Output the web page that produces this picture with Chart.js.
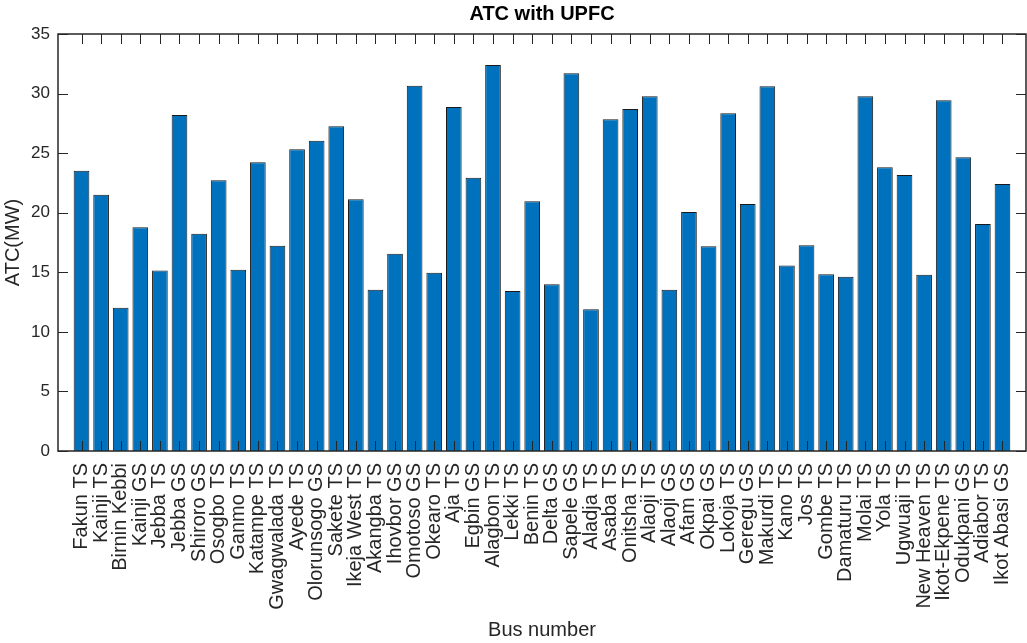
<!DOCTYPE html>
<html>
<head>
<meta charset="utf-8">
<title>ATC with UPFC</title>
<script src="https://cdn.jsdelivr.net/npm/chart.js@4.4.1/dist/chart.umd.min.js"></script>
<style>
  html, body { margin: 0; padding: 0; background: #fff; }
  .wrap { width: 1027px; height: 643px; position: relative; }
</style>
</head>
<body>
<div class="wrap"><canvas id="chart1"></canvas></div>
<script>
// data
const busNames = ['Fakun TS', 'Kainji TS', 'Birnin Kebbi', 'Kainji GS', 'Jebba TS', 'Jebba GS',
    'Shiroro GS', 'Osogbo TS', 'Ganmo TS', 'Katampe TS', 'Gwagwalada TS', 'Ayede TS',
    'Olorunsogo GS', 'Sakete TS', 'Ikeja West TS', 'Akangba TS', 'Ihovbor GS', 'Omotoso GS',
    'Okearo TS', 'Aja TS', 'Egbin GS', 'Alagbon TS', 'Lekki TS', 'Benin TS',
    'Delta GS', 'Sapele GS', 'Aladja TS', 'Asaba TS', 'Onitsha TS', 'Alaoji TS',
    'Alaoji GS', 'Afam GS', 'Okpai GS', 'Lokoja TS', 'Geregu GS', 'Makurdi TS',
    'Kano TS', 'Jos TS', 'Gombe TS', 'Damaturu TS', 'Molai TS', 'Yola TS',
    'Ugwuaji TS', 'New Heaven TS', 'Ikot-Ekpene TS', 'Odukpani GS', 'Adiabor TS', 'Ikot Abasi GS'];

const atcValues = [23.53, 21.51, 12.03, 18.77, 15.16, 28.2,
    18.24, 22.72, 15.22, 24.23, 17.23, 25.32,
    26.05, 27.25, 21.12, 13.54, 16.56, 30.66,
    14.97, 28.87, 22.94, 32.4, 13.43, 20.96,
    13.99, 31.7, 11.89, 27.84, 28.71, 29.77,
    13.54, 20.06, 17.18, 28.34, 20.73, 30.61,
    15.56, 17.26, 14.83, 14.63, 29.77, 23.81,
    23.17, 14.8, 29.43, 24.65, 19.05, 22.41];

const yTicks = [0, 5, 10, 15, 20, 25, 30, 35];

const axisColor = '#262626';
const fontFamily = "'Liberation Sans', Arial, Helvetica, sans-serif";

const busPositions = busNames.map((n, i) => i + 1);

// MATLAB style box with inward ticks
const boxTicks = {
    id: 'boxTicks',
    afterDraw(chart) {
        const c = chart.ctx;
        const a = chart.chartArea;
        const xs = chart.scales.x;
        const ys = chart.scales.y;
        const len = 10;
        c.save();
        c.strokeStyle = axisColor;
        c.lineWidth = 1.5;
        c.strokeRect(a.left, a.top, a.right - a.left, a.bottom - a.top);
        c.lineWidth = 1;
        c.beginPath();
        busPositions.forEach(p => {
            const x = Math.round(xs.getPixelForValue(p)) + 0.5;
            c.moveTo(x, a.bottom);
            c.lineTo(x, a.bottom - len);
            c.moveTo(x, a.top);
            c.lineTo(x, a.top + len);
        });
        yTicks.forEach(t => {
            const y = Math.round(ys.getPixelForValue(t)) + 0.5;
            c.moveTo(a.left, y);
            c.lineTo(a.left + len, y);
            c.moveTo(a.right, y);
            c.lineTo(a.right - len, y);
        });
        c.stroke();
        c.restore();
    }
};

const ctx = document.getElementById('chart1');
const chart1 = new Chart(ctx, {
    type: 'bar',
    data: {
        datasets: [{
            label: 'ATC',
            data: atcValues.map((v, i) => ({ x: busPositions[i], y: v })),
            backgroundColor: '#0072BD',
            borderColor: '#1a1a1a',
            borderWidth: 1,
            barPercentage: 0.8,
            categoryPercentage: 1
        }]
    },
    options: {
        responsive: true,
        maintainAspectRatio: false,
        animation: false,
        layout: {
            padding: { left: 0, right: 1, top: 0, bottom: 0 }
        },
        plugins: {
            legend: { display: false },
            tooltip: { enabled: false },
            title: {
                display: true,
                text: 'ATC with UPFC',
                fullSize: false,
                color: '#000',
                font: { family: fontFamily, size: 20, weight: 'bold' },
                padding: { top: 2, bottom: 8 }
            }
        },
        scales: {
            x: {
                type: 'linear',
                offset: false,
                min: -0.2,
                max: 49.2,
                grid: { display: false, drawTicks: false, offset: false },
                border: { display: false },
                afterBuildTicks: scale => {
                    scale.ticks = busPositions.map(p => ({ value: p }));
                },
                afterFit: scale => {
                    scale.height = 192;
                    scale.paddingLeft = 0;
                    scale.paddingRight = 0;
                },
                ticks: {
                    autoSkip: false,
                    minRotation: 90,
                    maxRotation: 90,
                    padding: 12,
                    color: axisColor,
                    font: { family: fontFamily, size: 20 },
                    callback: value => busNames[value - 1]
                },
                title: {
                    display: true,
                    text: 'Bus number',
                    color: axisColor,
                    font: { family: fontFamily, size: 20 },
                    padding: { top: 0, bottom: 1 }
                }
            },
            y: {
                min: 0,
                max: 35,
                grid: { display: false, drawTicks: false },
                border: { display: false },
                afterFit: scale => {
                    scale.width = 58;
                    scale.paddingTop = 0;
                    scale.paddingBottom = 0;
                },
                ticks: {
                    stepSize: 5,
                    padding: 8,
                    color: axisColor,
                    font: { family: fontFamily, size: 17 }
                },
                title: {
                    display: true,
                    text: 'ATC(MW)',
                    color: axisColor,
                    font: { family: fontFamily, size: 20 },
                    padding: { top: 1, bottom: 0 }
                }
            }
        }
    },
    plugins: [boxTicks]
});
</script>
</body>
</html>
